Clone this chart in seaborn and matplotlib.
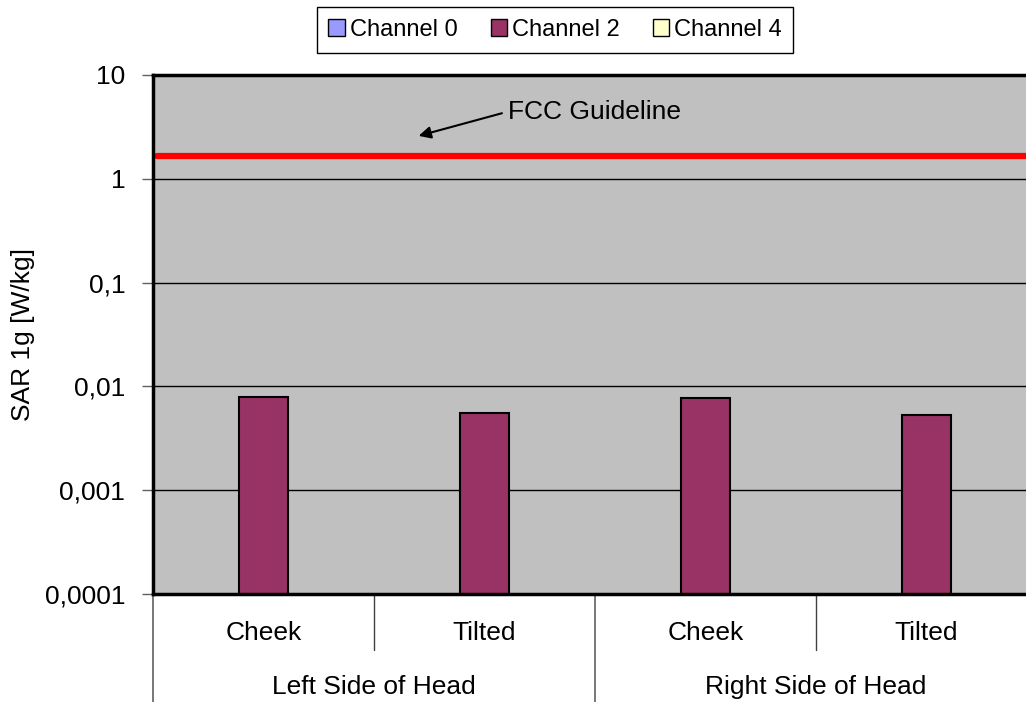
import numpy as np
import pandas as pd
import matplotlib
matplotlib.use("Agg")
import matplotlib.pyplot as plt
import matplotlib.transforms as mtransforms
from matplotlib.lines import Line2D
from matplotlib.patches import Patch
from matplotlib.ticker import FuncFormatter, LogLocator, NullLocator
import seaborn as sns

# data (Channel 0 / 4 have no visible bars)
positions = ["Cheek", "Tilted", "Cheek", "Tilted"]
sides = ["Left Side of Head", "Right Side of Head"]
channels = ["Channel 0", "Channel 2", "Channel 4"]
channel0 = [np.nan, np.nan, np.nan, np.nan]
channel2 = [0.0079, 0.0056, 0.0078, 0.0053]
channel4 = [np.nan, np.nan, np.nan, np.nan]
fcc_limit = 1.67
colors = ["#9999FF", "#993366", "#FFFFCC"]

keys = ["L-Cheek", "L-Tilted", "R-Cheek", "R-Tilted"]
rows = []
for ch, vals in zip(channels, [channel0, channel2, channel4]):
    for k, v in zip(keys, vals):
        rows.append({"key": k, "channel": ch, "sar": v})
df = pd.DataFrame(rows).dropna()

sns.set_style("ticks")
plt.rcParams["font.family"] = ["Liberation Sans", "DejaVu Sans"]
plt.rcParams["text.color"] = "black"
plt.rcParams["axes.labelcolor"] = "black"
plt.rcParams["ytick.color"] = "black"

fig = plt.figure(figsize=(10.26, 7.02), dpi=100)
ax = fig.add_axes([153 / 1026, 1 - 594 / 702, 884 / 1026, 519 / 702])
ax.set_facecolor("#C0C0C0")

sns.barplot(data=df, x="key", y="sar", hue="channel", order=keys,
            hue_order=channels, palette=colors, width=0.665, dodge=True,
            saturation=1, edgecolor="black", linewidth=1.5, legend=False, ax=ax)

ax.set_yscale("log")
ax.set_ylim(0.0001, 10)
ax.set_xlim(-0.5, 3.5)
ax.yaxis.set_major_locator(LogLocator(base=10))
ax.yaxis.set_minor_locator(NullLocator())
ax.yaxis.set_major_formatter(FuncFormatter(lambda v, p: ("%g" % v).replace(".", ",")))
ax.yaxis.grid(True, color="black", lw=1)
ax.set_axisbelow(True)
ax.tick_params(axis="y", labelsize=19, length=8, width=1, color="#606060", pad=12)
ax.set_xticks([])
ax.set_xlabel("")
ax.set_ylabel("SAR 1g [W/kg]", fontsize=19, labelpad=7)

for s in ["left", "top", "bottom"]:
    ax.spines[s].set_color("black")
    ax.spines[s].set_linewidth(2.5)
ax.spines["right"].set_visible(False)

# FCC guideline
ax.axhline(fcc_limit, xmin=0.005, xmax=1, color="red", lw=4.5)
ax.annotate("FCC Guideline", xy=(0.69, 2.55), xytext=(1.106, 4.44),
            fontsize=19, ha="left", va="center",
            arrowprops=dict(arrowstyle="-|>", color="black", lw=1.5,
                            mutation_scale=18, relpos=(0, 0.5)))

# two-level category axis
trans = mtransforms.blended_transform_factory(ax.transData, ax.transAxes)
for i, p in enumerate(positions):
    ax.text(i, -0.075, p, transform=trans, ha="center", va="center", fontsize=19)
for j, s in enumerate(sides):
    ax.text(2 * j + 0.5, -0.179, s, transform=trans, ha="center", va="center", fontsize=19)
for x in [0.5, 2.5]:
    ax.add_line(Line2D([x, x], [0, -0.108], transform=trans, color="#404040",
                       lw=1, clip_on=False))
for x in [-0.5, 1.5, 3.5]:
    ax.add_line(Line2D([x, x], [0, -0.25], transform=trans, color="#606060",
                       lw=1.2, clip_on=False))

handles = [Patch(facecolor=c, edgecolor="black", lw=1) for c in colors]
fig.legend(handles, channels, loc="center", bbox_to_anchor=(555 / 1026, 1 - 30 / 702),
           ncol=3, fontsize=17, frameon=True, fancybox=False, edgecolor="black",
           handlelength=0.7, handleheight=0.7, handletextpad=0.2,
           columnspacing=1.4, borderpad=0.5, framealpha=1)

fig.savefig("out.png", dpi=100)
